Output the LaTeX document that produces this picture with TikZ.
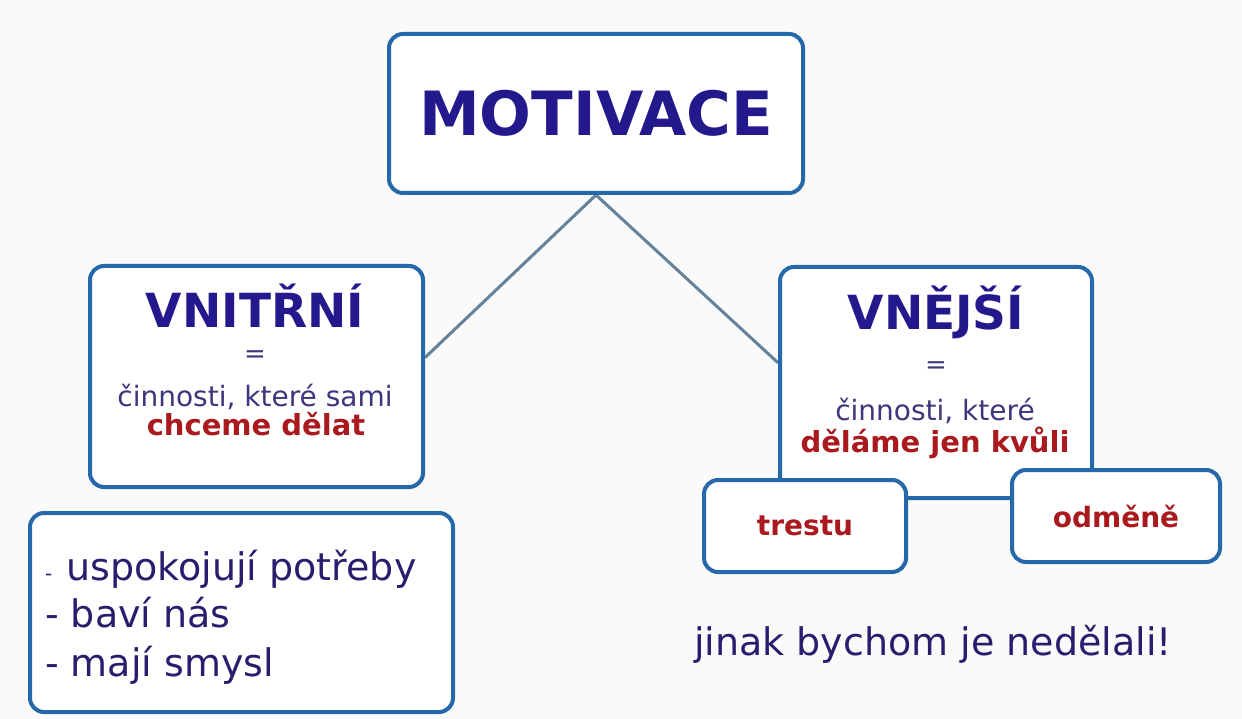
\documentclass[tikz,border=0pt]{standalone}
\usepackage{fontspec}
\setmainfont{DejaVu Sans}
\usetikzlibrary{calc}
\pgfdeclarelayer{bg}
\pgfsetlayers{bg,main}
\definecolor{boxblue}{RGB}{38,105,170}
\definecolor{linkgray}{RGB}{100,130,155}
\definecolor{navy}{RGB}{35,25,140}
\definecolor{bodyblue}{RGB}{60,55,125}
\definecolor{listblue}{RGB}{40,30,110}
\definecolor{darkred}{RGB}{170,25,30}
\definecolor{bggray}{RGB}{250,250,250}
\begin{document}
\begin{tikzpicture}[x=1pt,y=-1pt,
  box/.style={draw=boxblue, line width=4pt, rounded corners=14pt, fill=white, inner sep=0pt},
  link/.style={draw=linkgray, line width=3pt},
  head/.style={text=navy, font=\bfseries\fontsize{47}{47}\selectfont, inner sep=0pt, anchor=base},
  eqs/.style={text=bodyblue, font=\fontsize{26}{26}\selectfont, inner sep=0pt},
  body/.style={text=bodyblue, font=\fontsize{28}{28}\selectfont, inner sep=0pt, anchor=base},
  redtxt/.style={text=darkred, font=\bfseries\fontsize{29}{29}\selectfont, inner sep=0pt, anchor=base},
  listtxt/.style={text=listblue, font=\fontsize{38}{38}\selectfont, inner sep=0pt, anchor=base west},
]
\useasboundingbox (0,0) rectangle (1242,719);
\begin{pgfonlayer}{bg}
\fill[bggray] (0,0) rectangle (1242,719);
\end{pgfonlayer}

% main boxes
\node[box, minimum width=414pt, minimum height=159pt, text=navy,
      font=\bfseries\fontsize{61}{61}\selectfont] (mot) at (596,113.5) {MOTIVACE};
\node[box, minimum width=333pt, minimum height=221pt] (vin) at (256.5,376.5) {};
\node[box, minimum width=312pt, minimum height=231pt] (vne) at (936,382.5) {};
\node[box, minimum width=423pt, minimum height=199pt] (lst) at (241.5,612.5) {};

% connectors (behind the boxes)
\begin{pgfonlayer}{bg}
\draw[link] (mot.south) -- ($(vin.north east)!0.416!(vin.south east)$);
\draw[link] (mot.south) -- ($(vne.north west)!0.416!(vne.south west)$);
\end{pgfonlayer}

% small boxes
\node[box, minimum width=202pt, minimum height=92pt, text=darkred,
      font=\bfseries\fontsize{28}{28}\selectfont] (tre) at (805,526) {trestu};
\node[box, minimum width=208pt, minimum height=92pt, text=darkred,
      font=\bfseries\fontsize{28}{28}\selectfont] (odm) at (1116,516) {odměně};

% VNITRNI texts
\node[head] (vinh) at (255,327) {VNITŘNÍ};
\node[eqs] (vineq) at (255,357) {=};
\node[body] (vinb) at (255,406) {činnosti, které sami};
\node[redtxt] (vinr) at (256,435) {chceme dělat};

% VNEJSI texts
\node[head] (vneh) at (936,330) {VNĚJŠÍ};
\node[eqs] (vneeq) at (936,368) {=};
\node[body] (vneb) at (935,420) {činnosti, které};
\node[redtxt] (vner) at (935,452) {děláme jen kvůli};

% list
\node[listtxt] (l1) at (45,580) {{\fontsize{20}{20}\selectfont -}\hspace{14pt}uspokojují potřeby};
\node[listtxt] (l2) at (45,627) {- baví nás};
\node[listtxt] (l3) at (45,676) {- mají smysl};

% bottom note
\node[listtxt, anchor=base] (note) at (933,655) {jinak bychom je nedělali!};
\end{tikzpicture}
\end{document}
